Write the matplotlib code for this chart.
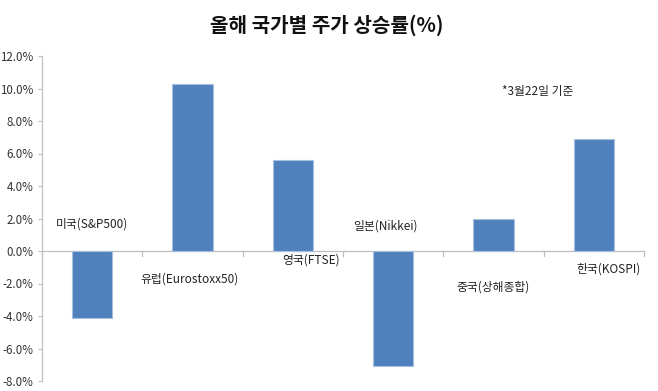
import numpy as np
import matplotlib.pyplot as plt
from matplotlib.ticker import FuncFormatter

plt.rcParams['font.family'] = ['Noto Sans CJK KR', 'DejaVu Sans']

# 데이터
labels = ['미국(S&P500)', '유럽(Eurostoxx50)', '영국(FTSE)', '일본(Nikkei)', '중국(상해종합)', '한국(KOSPI)']
values = [-4.1, 10.3, 5.6, -7.1, 2.0, 6.9]
yticks = [-8, -6, -4, -2, 0, 2, 4, 6, 8, 10, 12]

# 라벨 위치 (데이터 좌표 기준 오프셋)
label_dx = [0.0, -0.03, 0.18, -0.08, 0.0, 0.15]
label_y = [1.66, -1.72, -0.55, 1.54, -2.2, -1.1]

fig = plt.figure(figsize=(6.58, 3.91), dpi=100)
ax = fig.add_axes([42 / 658, 1 - 381 / 391, (644 - 42) / 658, (381 - 56) / 391])

x = np.arange(len(values))
ax.bar(x, values, width=0.4, color='#4F81BD', edgecolor='#A7C0E0', linewidth=0.8, zorder=3)

ax.set_xlim(-0.5, len(values) - 0.5)
ax.set_ylim(-8, 12)
ax.set_yticks(yticks)
ax.yaxis.set_major_formatter(FuncFormatter(lambda v, p: f'{v:.1f}%'))
ax.tick_params(axis='y', labelsize=8.3, colors='#333333', length=3, width=0.8, pad=3)
ax.tick_params(axis='y', color='#BFBFBF')

# 0 축선과 항목 구분 눈금
ax.axhline(0, color='#BFBFBF', linewidth=0.9, zorder=2)
for b in np.arange(-0.5, len(values), 1.0):
    ax.plot([b, b], [0, -0.3], color='#BFBFBF', linewidth=0.9, clip_on=False, zorder=2)
ax.set_xticks([])

for s in ['top', 'right', 'bottom']:
    ax.spines[s].set_visible(False)
ax.spines['left'].set_color('#BFBFBF')
ax.spines['left'].set_linewidth(0.9)

for i, lab in enumerate(labels):
    ax.text(i + label_dx[i], label_y[i], lab, ha='center', va='center', fontsize=8.5, color='#222222')

ax.text(4.44, 9.8, '*3월22일 기준', ha='center', va='center', fontsize=8.5, color='#222222')

fig.text(0.497, 0.935, '올해 국가별 주가 상승률(%)', ha='center', va='center',
         fontsize=14.5, fontweight='bold', color='#111111')

plt.savefig('out.png', dpi=100)
